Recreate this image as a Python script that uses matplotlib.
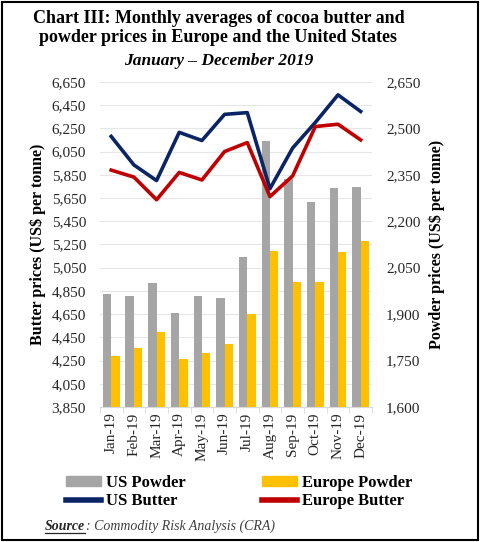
import numpy as np
import matplotlib
matplotlib.use("Agg")
import matplotlib.pyplot as plt
from matplotlib.patches import Rectangle, Patch
from matplotlib.lines import Line2D

plt.rcParams['font.family'] = ['Liberation Serif', 'DejaVu Serif']

months = ["Jan-19", "Feb-19", "Mar-19", "Apr-19", "May-19", "Jun-19",
          "Jul-19", "Aug-19", "Sep-19", "Oct-19", "Nov-19", "Dec-19"]
us_powder = [1965, 1960, 2000, 1905, 1960, 1952, 2085, 2460, 2335, 2262, 2307, 2310]
europe_powder = [1765, 1792, 1842, 1755, 1773, 1802, 1900, 2103, 2004, 2004, 2102, 2136]
us_butter = [6180, 5935, 5800, 6215, 6145, 6370, 6385, 5730, 6080, 6300, 6538, 6395]
europe_butter = [5890, 5830, 5635, 5870, 5805, 6050, 6127, 5662, 5840, 6265, 6285, 6150]

butter_ticks = list(range(3850, 6651, 200))
powder_ticks = list(range(1600, 2651, 150))

c_gray = "#A5A5A5"
c_yellow = "#FFC000"
c_navy = "#0B2465"
c_red = "#C00000"
c_text = "#262626"

fig = plt.figure(figsize=(4.8, 5.42), dpi=100)
ax = fig.add_axes([0.208, 0.249, 0.567, 0.600])
ax2 = ax.twinx()

x = np.arange(len(months))
w = 0.37

# bars on the powder (right) scale
ax2.bar(x - w / 2, us_powder, width=w, color=c_gray, zorder=2)
ax2.bar(x + w / 2, europe_powder, width=w, color=c_yellow, zorder=2)

# butter lines drawn on top, using the left scale
ax2.plot(x, us_butter, color=c_navy, lw=2.6, transform=ax.transData, zorder=3)
ax2.plot(x, europe_butter, color=c_red, lw=2.6, transform=ax.transData, zorder=3)

ax.set_xlim(-0.5, len(months) - 0.5)
ax.set_ylim(butter_ticks[0], butter_ticks[-1])
ax2.set_ylim(powder_ticks[0], powder_ticks[-1])
ax.set_yticks(butter_ticks)
ax.set_yticklabels([f"{v:,}" for v in butter_ticks])
ax2.set_yticks(powder_ticks)
ax2.set_yticklabels([f"{v:,}" for v in powder_ticks])

ax.set_xticks(x)
ax.set_xticklabels(months, rotation=90, fontsize=11)
ax.set_xticks(np.arange(-0.5, len(months)), minor=True)
ax.tick_params(axis="x", which="major", length=0, pad=4, labelcolor=c_text)
ax.tick_params(axis="x", which="minor", length=4, color="#D9D9D9")
ax.tick_params(axis="y", length=0, labelsize=11, pad=10, labelcolor=c_text)
ax2.tick_params(axis="y", length=0, labelsize=11, pad=10, labelcolor=c_text)

ax.grid(axis="y", color="#E6E6E6", lw=0.8)
ax.set_axisbelow(True)
for a in (ax, ax2):
    for s in ("left", "right", "top"):
        a.spines[s].set_visible(False)
    a.spines["bottom"].set_color("#D9D9D9")

ax.set_ylabel("Butter prices (US$ per tonne)", fontsize=11.5, fontweight="bold", labelpad=4)
ax2.set_ylabel("Powder prices (US$ per tonne)", fontsize=11.5, fontweight="bold", labelpad=6)

fig.text(0.455, 0.982, "Chart III: Monthly averages of cocoa butter and\npowder prices in Europe and the United States",
         ha="center", va="top", fontsize=13, fontweight="bold", linespacing=1.15)
fig.text(0.455, 0.887, "January \u2013 December 2019", ha="center", va="center",
         fontsize=12.5, fontweight="bold", style="italic")

handles = [Patch(color=c_gray), Line2D([], [], color=c_navy, lw=4),
           Patch(color=c_yellow), Line2D([], [], color=c_red, lw=4)]
labels = ["US Powder", "US Butter", "Europe Powder", "Europe Butter"]
fig.legend(handles, labels, ncol=2, loc="center", bbox_to_anchor=(0.498, 0.092),
           frameon=False, prop={"weight": "bold", "size": 12}, handlelength=2.1,
           handleheight=0.6, handletextpad=0.3, columnspacing=4.6, labelspacing=0.15)

# source line with underlined bold word
src_y = 0.022
src = fig.text(0.094, src_y, "Source", fontsize=10, style="italic", fontweight="bold",
               va="baseline", color=c_text)
fig.canvas.draw()
bb = src.get_window_extent().transformed(fig.transFigure.inverted())
fig.add_artist(Line2D([bb.x0, bb.x1], [src_y - 0.005, src_y - 0.005],
                      transform=fig.transFigure, color=c_text, lw=0.9))
fig.text(bb.x1 + 0.002, src_y, ": Commodity Risk Analysis (CRA)", fontsize=10,
         style="italic", va="baseline", color="#404040")

fig.patches.append(Rectangle((0.004, 0.004), 0.992, 0.992, transform=fig.transFigure,
                             fill=False, edgecolor="black", lw=1.5))

fig.savefig("out.png", dpi=100)
